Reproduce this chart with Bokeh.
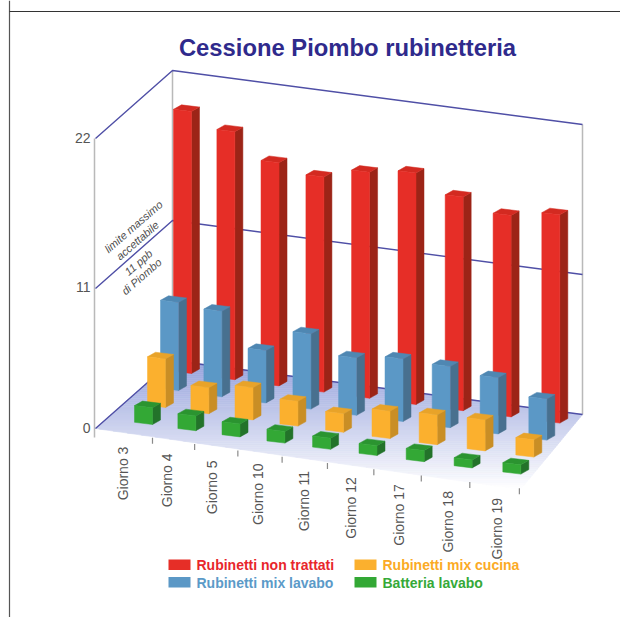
from bokeh.core.properties import value
from bokeh.embed import file_html
from bokeh.plotting import figure
from bokeh.resources import INLINE
import math

TITLE = "Cessione Piombo rubinetteria"
categories = ["Giorno 3", "Giorno 4", "Giorno 5", "Giorno 10", "Giorno 11",
              "Giorno 12", "Giorno 17", "Giorno 18", "Giorno 19"]
y_ticks = [0, 11, 22]

non_trattati = [20.0, 19.0, 17.2, 16.6, 17.4, 17.8, 16.5, 15.6, 16.1]
mix_lavabo = [7.0, 6.8, 4.2, 6.0, 4.6, 5.0, 4.9, 4.5, 3.3]
mix_cucina = [3.9, 2.1, 2.6, 2.0, 1.5, 2.2, 2.4, 2.5, 1.4]
batteria = [1.35, 1.2, 1.05, 0.95, 0.9, 0.8, 0.9, 0.65, 0.75]

# name, values, text colour, front, side, cap; listed from the back row to the front row
series = [
    ("Rubinetti non trattati", non_trattati, "#e8262c", "#e62e27", "#9c2417", "#d32a21"),
    ("Rubinetti mix lavabo", mix_lavabo, "#5b9ac8", "#5b98c6", "#48708f", "#4f87b2"),
    ("Rubinetti mix cucina", mix_cucina, "#fbaa25", "#fbb02e", "#c98e25", "#e8a329"),
    ("Batteria lavabo", batteria, "#35a938", "#33a835", "#23732a", "#2b9430"),
]

AXIS_MAX = 22.0
WALL_PX = 290.0
FORESHORTEN = 0.0714  # heights grow slightly toward the camera


def height_px(v):
    t = v / AXIS_MAX
    return WALL_PX * t / (1 + FORESHORTEN * (1 - t))


# Scene corners on the floor plane
FL, BL, BR, FR = (95, 428), (172, 360), (582, 414), (520, 489)

p = figure(width=620, height=617, x_range=(0, 620), y_range=(617, 0),
           output_backend="svg", toolbar_location=None, min_border=0,
           outline_line_color=None, background_fill_color="white",
           border_fill_color="white")
p.axis.visible = False
p.grid.visible = False

# Page frame
p.line([9, 9], [0, 617], line_color="#555555", line_width=1.2)
p.line([9, 620], [11, 11], line_color="#333333", line_width=1.2)


def clip_band(poly, y0, y1):
    def clip(points, keep, cross):
        out = []
        for k, a in enumerate(points):
            b = points[(k + 1) % len(points)]
            if keep(a):
                out.append(a)
            if keep(a) != keep(b):
                t = (cross - a[1]) / (b[1] - a[1])
                out.append((a[0] + t * (b[0] - a[0]), cross))
        return out
    part = clip(poly, lambda q: q[1] >= y0, y0)
    return clip(part, lambda q: q[1] <= y1, y1) if part else []


# Floor: vertical fade from periwinkle at the back to white at the front
top_rgb, low_rgb = (150, 162, 220), (255, 255, 255)
strips = 64
fy0, fy1 = BL[1], FR[1]
xs_f, ys_f, cols_f = [], [], []
for k in range(strips):
    a = fy0 + (fy1 - fy0) * k / strips
    b = fy0 + (fy1 - fy0) * (k + 1) / strips
    poly = clip_band([FL, BL, BR, FR], a, b)
    if len(poly) < 3:
        continue
    f = (k + 0.5) / strips
    rgb = [round(c0 + (c1 - c0) * f) for c0, c1 in zip(top_rgb, low_rgb)]
    xs_f.append([q[0] for q in poly])
    ys_f.append([q[1] for q in poly])
    cols_f.append("#%02x%02x%02x" % tuple(rgb))
p.patches(xs_f, ys_f, fill_color=cols_f, line_color=cols_f, line_width=0.6)

# Wall edges
GREY = "#b9b9b9"
p.line([FL[0] - 1, FL[0] - 1], [FL[1] - height_px(22), FL[1] + 9], line_color=GREY, line_width=1.5)
p.line([BL[0], BL[0]], [BL[1] - height_px(22), BL[1]], line_color=GREY, line_width=1.5)
p.line([BR[0], BR[0]], [BR[1] - height_px(22), BR[1]], line_color=GREY, line_width=1.5)

# Gridlines at each axis value run along the side wall and the back wall
INDIGO = "#4f4fa6"
for tick in y_ticks:
    h = height_px(tick)
    p.line([FL[0], BL[0], BR[0]], [FL[1] - h, BL[1] - h, BR[1] - h],
           line_color=INDIGO, line_width=1.4)
    p.text([FL[0] - 5], [FL[1] - h - 1], text=[str(tick)], text_align="right",
           text_baseline="middle", text_color="#555555", text_font=value("Liberation Sans"),
           text_font_size="14px")

# Category ticks and labels
for i, label in enumerate(categories):
    n = i + 1
    tx = 110.9 + 40.56 * n + 0.53 * n * n
    ty = 434 + 6.3 * n
    p.line([tx, tx], [ty - 3, ty + 3], line_color="#8a8a8a", line_width=1.2)
    lx = 122 + 44 * i + 0.35 * i * i
    ly = 473 + 6.9 * i
    p.text([lx], [ly], text=[label], angle=math.pi / 2, text_align="center",
           text_baseline="middle", text_color="#555555", text_font=value("Liberation Sans"),
           text_font_size="14px")


# Bars, painted from the back row forward
BAR_W, DEPTH_X, DEPTH_Y, SKEW = 18.0, 8.0, 4.5, 2.2
for row, (name, vals, _, front, side, cap) in enumerate(series):
    slot = 3 - row
    fx, fy, sx, sy, cx, cy = [], [], [], [], [], []
    for i, v in enumerate(vals):
        x = 134 + 13 * slot + 43 * i + 0.38 * i * i
        yb = 373 + 17 * (3 - slot) + 6.2 * i
        h = height_px(v)
        x2, x3 = x + BAR_W, x + BAR_W + DEPTH_X
        fx.append([x, x2, x2, x])
        fy.append([yb - SKEW, yb, yb - h, yb - h - SKEW])
        sx.append([x2, x3, x3, x2])
        sy.append([yb, yb - DEPTH_Y, yb - DEPTH_Y - h, yb - h])
        cx.append([x, x2, x3, x + DEPTH_X])
        cy.append([yb - h - SKEW, yb - h, yb - h - DEPTH_Y, yb - h - SKEW - DEPTH_Y])
    for xs, ys, col in ((sx, sy, side), (cx, cy, cap), (fx, fy, front)):
        p.patches(xs, ys, fill_color=col, line_color=col, line_width=0.5)

# Notes along the limit gridline
notes = [("limite massimo", 133, 226), ("accettabile", 137, 240),
         ("11 ppb", 138, 262), ("di Piombo", 141, 276)]
for note, nx, ny in notes:
    p.text([nx], [ny], text=[note], angle=math.radians(41), text_align="center",
           text_baseline="middle", text_color="#4d4d4d", text_font=value("Liberation Sans"),
           text_font_style="italic", text_font_size="11px")

# Title
p.text([347], [46.5], text=[TITLE], text_align="center", text_baseline="middle",
       text_color="#2f2a8c", text_font=value("Liberation Sans"),
       text_font_style="bold", text_font_size="23.8px")

# Legend in two columns
legend_slots = [(168, 564.5), (168, 582), (354, 564.5), (354, 582)]
for (lx, ly), (name, _, txt, front, _, _) in zip(legend_slots, series):
    p.quad(left=[lx], right=[lx + 22], top=[ly - 5.5], bottom=[ly + 5], fill_color=front, line_color=None)
    p.text([lx + 28], [ly], text=[name], text_align="left", text_baseline="middle",
           text_color=txt, text_font=value("Liberation Sans"), text_font_style="bold",
           text_font_size="14px")

open("out.html", "w").write(file_html(p, INLINE))
